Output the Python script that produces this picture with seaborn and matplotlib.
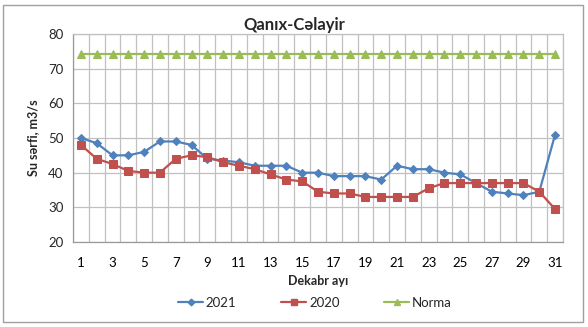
import numpy as np
import pandas as pd
import matplotlib
matplotlib.use("Agg")
import matplotlib.pyplot as plt
import seaborn as sns
from matplotlib.lines import Line2D
from matplotlib.patches import Rectangle

days = list(range(1, 32))
s2021 = [50, 48.5, 45, 45, 46, 49, 49, 48, 44, 43.5, 43, 42, 42, 42, 40, 40,
         39, 39, 39, 38, 42, 41, 41, 40, 39.5, 37, 34.5, 34, 33.5, 34.5, 51]
s2020 = [48, 44, 42.5, 40.5, 40, 40, 44, 45, 44.5, 43, 42, 41, 39.5, 38, 37.5, 34.5,
         34, 34, 33, 33, 33, 33, 35.5, 37, 37, 37, 37, 37, 37, 34.5, 29.5]
norma = [74.3] * 31
series_names = ["2021", "2020", "Norma"]
title = "Qanıx-Cəlayir"
xlabel = "Dekabr ayı"
ylabel = "Su sərfi, m3/s"

df = pd.DataFrame({
    "day": days * 3,
    "value": s2021 + s2020 + norma,
    "series": ["2021"] * 31 + ["2020"] * 31 + ["Norma"] * 31,
})

sns.set_style("white")
plt.rcParams["font.family"] = ["Lato", "DejaVu Sans"]

colors = {"2021": "#4F81BD", "2020": "#C0504D", "Norma": "#9BBB59"}
markers = {"2021": "D", "2020": "s", "Norma": "^"}
msizes = {"2021": 4.5, "2020": 5.8, "Norma": 5.5}

fig = plt.figure(figsize=(5.88, 3.27), dpi=100)
ax = fig.add_axes([73 / 588, 1 - 242 / 327, (563 - 73) / 588, (242 - 34) / 327])

for name in series_names:
    sub = df[df["series"] == name]
    sns.lineplot(data=sub, x="day", y="value", ax=ax, color=colors[name],
                 marker=markers[name], markersize=msizes[name],
                 markeredgecolor=colors[name], linewidth=1.6, legend=False)

ax.set_xlim(0.5, 31.5)
ax.set_ylim(20, 80)
ax.set_yticks(np.arange(20, 81, 10))
ax.set_xticks(days[::2])
ax.set_xticks(np.arange(0.5, 32, 1), minor=True)
ax.tick_params(axis="x", which="major", length=0, pad=11, labelsize=9.5, colors="#000000")
ax.tick_params(axis="x", which="minor", length=4, color="#999999", direction="out")
ax.tick_params(axis="y", which="major", length=4, color="#999999", direction="out",
               labelsize=9.5, pad=3)
ax.grid(True, which="minor", axis="x", color="#c0c0c0", linewidth=0.9)
ax.grid(True, which="major", axis="y", color="#c0c0c0", linewidth=0.9)
ax.set_axisbelow(True)
for side in ["left", "bottom"]:
    ax.spines[side].set_color("#999999")
    ax.spines[side].set_linewidth(0.9)
for side in ["top", "right"]:
    ax.spines[side].set_color("#c0c0c0")
    ax.spines[side].set_linewidth(0.9)

ax.set_xlabel(xlabel, fontsize=9, fontweight="bold", labelpad=4)
ax.set_ylabel(ylabel, fontsize=9, fontweight="bold", labelpad=6)
fig.text(0.5, 1 - 25 / 327, title, fontsize=12, fontweight="bold",
         ha="center", va="center")

handles = [Line2D([0], [0], color=colors[n], marker=markers[n], markersize=msizes[n] * 0.75,
                  markeredgecolor=colors[n], linewidth=1.6) for n in series_names]
fig.legend(handles, series_names, loc="center", bbox_to_anchor=(315 / 588, 1 - 303 / 327),
           ncol=3, frameon=False, fontsize=9.5, columnspacing=3.4, handlelength=1.9,
           handletextpad=0.2)

fig.patches.append(Rectangle((3 / 588, 1 - 322 / 327), 580 / 588, 317 / 327,
                             transform=fig.transFigure, fill=False,
                             edgecolor="#a0a0a0", linewidth=1.0))

fig.savefig("out.png", dpi=100)
